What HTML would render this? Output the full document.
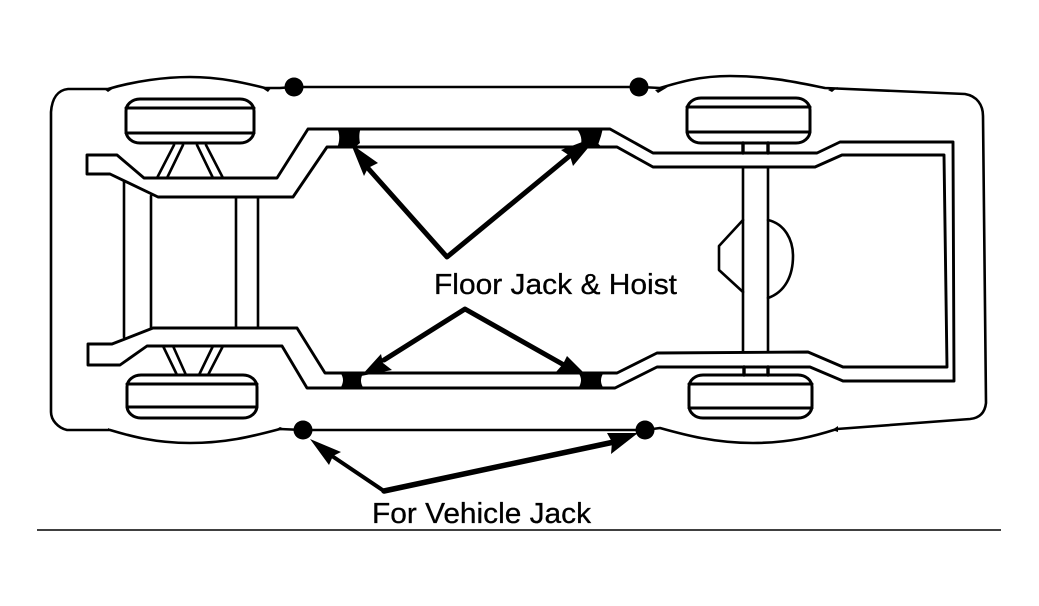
<!DOCTYPE html>
<html lang="en">
<head>
<meta charset="utf-8">
<title>Vehicle jacking points</title>
<style>
html,body{margin:0;padding:0;background:#fff;width:1039px;height:606px;overflow:hidden}
svg{display:block}
text{font-family:"Liberation Sans",sans-serif;font-size:29px;fill:#000;stroke:#000;stroke-width:.3}
</style>
</head>
<body>
<svg width="1039" height="606" viewBox="0 0 1039 606" xmlns="http://www.w3.org/2000/svg">
<g fill="none" stroke="#000" stroke-width="2.6" stroke-linejoin="round" stroke-linecap="round">
  <!-- body outline -->
  <path d="M51 112 C52 98 58 90 68 89 L108 89 C135 81 165 77 190 77 C220 77 245 83 265 88 L280 88 L294 87 L640 87 L660 88 C680 82 700 76 730 76 C770 76 800 83 825 88 L965 94 C977 96 983 105 983 116 L986 403 C985 412 980 418 970 419 L837 429 C815 436 790 443 753 443 C715 443 685 435 660 428 L645 430 L303 430 L280 429 C250 437 225 443 190 443 C155 443 130 436 110 430 L67 430 C58 428 51 420 51 412 Z"/>
  <!-- frame -->
  <path stroke-width="2.9" d="M87 155 L117 155 L144 178 L277 178 L308 129 L610 129 L653 153 L817 153 L840 142 L953 142 L954 381 L843 381 L810 367 L657 367 L615 388 L307 388 L282 346 L147 346 L120 365 L88 365 L88 344 L112 344 L153 328 L297 328 L325 373 L617 373 L657 353 L808 352 L843 367 L947 367 L944 155 L842 155 L815 167 L653 167 L617 147 L327 147 L293 197 L158 197 L110 174 L87 174 Z"/>
  <!-- front crossmember -->
  <path d="M124 182 L124 337 M151 196 L151 328 M236 197 L236 327 M258 197 L258 327"/>
  <!-- rear axle -->
  <path d="M743 168 L743 352 M768 168 L768 352"/>
  <path stroke-width="3.4" d="M743 143 L743 153 M768 143 L768 153 M744 367 L744 375 M768 367 L768 375"/>
  <!-- differential -->
  <path d="M743 220 L719 246 L719 270 L743 292 M768 220 C785 224 793 240 793 256 C793 276 785 292 768 298"/>
  <!-- struts -->
  <path d="M174 145 L157 178 M183 145 L167 178 M197 145 L213 178 M206 145 L223 178 M163 346 L177 375 M173 346 L186 375 M213 346 L199 375 M223 346 L208 375"/>
  <!-- wheels -->
  <g stroke-width="3">
    <rect x="126" y="99" width="128" height="44" rx="14" ry="12"/>
    <path d="M126 108 L254 108 M126 133 L254 133"/>
    <rect x="127" y="375" width="130" height="43" rx="14" ry="12"/>
    <path d="M127 384 L257 384 M127 407 L257 407"/>
    <rect x="687" y="98" width="123" height="45" rx="14" ry="12"/>
    <path d="M687 107 L810 107 M687 132 L810 132"/>
    <rect x="689" y="375" width="123" height="43" rx="14" ry="12"/>
    <path d="M689 384 L812 384 M689 408 L812 408"/>
  </g>
  <!-- rule -->
  <path stroke-width="1.4" stroke-linecap="butt" d="M37 530 L1001 530"/>
  <!-- arrow shafts -->
  <g stroke-width="5" stroke-linejoin="round">
    <path d="M366 166 L447 257 L572 154"/>
    <path d="M384 360 L465 309 L564 365"/>
    <path stroke-width="4" d="M332 456 L384 491"/>
    <path stroke-width="5.5" d="M384 491 L614 442"/>
  </g>
</g>
<g fill="#000" stroke="none">
  <!-- jack dots -->
  <circle cx="294" cy="87" r="9.5"/>
  <circle cx="639" cy="87" r="9.5"/>
  <circle cx="303" cy="430" r="9.5"/>
  <circle cx="645" cy="430" r="9.5"/>
  <path d="M655 90 L668 87 L658 93 Z M104 89 L114 88 L108 92 Z M262 88 L272 87 L268 92 Z M108 430 L116 432 L108 428 Z M275 430 L285 429 L280 427 Z M828 90 L838 87 L832 92 Z M832 430 L838 426 L838 432 Z"/>
  <!-- lift pads -->
  <path d="M337 128 L361 128 C359 132 359 138 360 143 L354 148 L337 148 C340 141 340 134 337 128 Z"/>
  <path d="M576 128 L603 128 L601 136 L597 148 L580 148 C583 140 581 134 576 128 Z"/>
  <path d="M340 389 C344 382 344 378 340 372 L364 372 C360 378 360 383 364 389 Z"/>
  <path d="M578 389 C582 382 582 378 578 372 L604 372 C600 378 600 383 604 389 Z"/>
  <path d="M592 148 L603 148 L594 140 Z"/>
  <!-- arrowheads -->
  <polygon points="351,144 378,163 368,168 364,176"/>
  <polygon points="598,136 573,166 570,156 561,150"/>
  <polygon points="361,376 381,354 383,363 392,370"/>
  <polygon points="586,375 567,356 563,364 556,372"/>
  <polygon points="310,439 341,452 333,456 329,465"/>
  <polygon points="638,433 607,433 612,442 611,454"/>
</g>
<text x="434" y="294" textLength="243" lengthAdjust="spacingAndGlyphs">Floor Jack &amp; Hoist</text>
<text x="372" y="523" textLength="219" lengthAdjust="spacingAndGlyphs">For Vehicle Jack</text>
</svg>
</body>
</html>
